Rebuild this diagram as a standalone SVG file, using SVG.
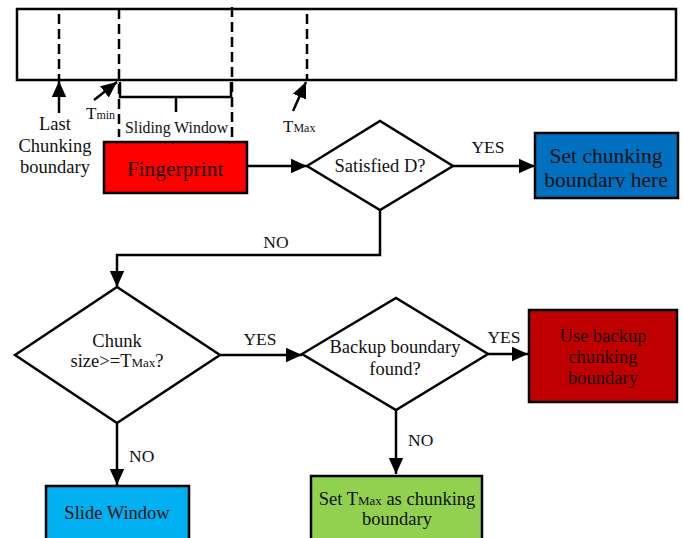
<svg xmlns="http://www.w3.org/2000/svg" width="683" height="538" viewBox="0 0 683 538">
  <defs>
    <marker id="head" viewBox="0 0 10 10" refX="10" refY="5" markerWidth="16" markerHeight="16" markerUnits="userSpaceOnUse" orient="auto">
      <path d="M0,0.5 L10,5 L0,9.5 Z" fill="#000"/>
    </marker>
    <clipPath id="clipBlue">
      <rect x="535" y="133" width="143" height="55"/>
    </clipPath>
  </defs>
  <style>
    text { font-family: "Liberation Serif", "Times New Roman", serif; fill: #111; font-size: 18.5px; }
    .mid { text-anchor: middle; }
    .box { stroke: #000; stroke-width: 2.5; }
    .dia { fill: #fff; stroke: #000; stroke-width: 2.5; }
    .edge { fill: none; stroke: #000; stroke-width: 2.5; }
    .dash { fill: none; stroke: #000; stroke-width: 2.5; stroke-dasharray: 10 5; }
    .lbl { font-size: 17.5px; }
    .mark { font-size: 17px; }
    .big { font-size: 21.5px; }
    .sub { font-size: 12px; }
    .sub13 { font-size: 13px; }
  </style>

  <!-- data stream with boundary markers -->
  <g id="stream">
    <rect x="17" y="9" width="659" height="71" fill="#fff" stroke="#000" stroke-width="2.5"/>
    <line class="dash" x1="59" y1="14" x2="59" y2="80"/>
    <line class="dash" x1="119" y1="9" x2="119" y2="137"/>
    <line class="dash" x1="232" y1="7" x2="232" y2="140"/>
    <line class="dash" x1="307" y1="14" x2="307" y2="80"/>
    <!-- sliding window brace -->
    <path class="edge" d="M120,82 V97 H231 V82 M176,97 V112"/>
    <!-- pointers -->
    <line class="edge" x1="59" y1="113" x2="59" y2="81" marker-end="url(#head)"/>
    <line class="edge" x1="94" y1="100" x2="117" y2="82" marker-end="url(#head)"/>
    <line class="edge" x1="293" y1="111" x2="306" y2="82" marker-end="url(#head)"/>
    <text class="mid" x="55" y="130">Last</text>
    <text class="mid" x="55" y="152">Chunking</text>
    <text class="mid" x="55" y="173">boundary</text>
    <text class="mark" x="86" y="119">T<tspan class="sub">min</tspan></text>
    <text x="125" y="133" style="font-size:15.8px">Sliding Window</text>
    <text class="mark" x="283" y="132">T<tspan class="sub">Max</tspan></text>
  </g>

  <!-- connectors -->
  <g id="connectors">
    <line class="edge" x1="247" y1="166" x2="307" y2="166" marker-end="url(#head)"/>
    <line class="edge" x1="453" y1="166" x2="535" y2="166" marker-end="url(#head)"/>
    <polyline class="edge" points="380,210 380,255 117,255 117,287" marker-end="url(#head)"/>
    <line class="edge" x1="220" y1="355" x2="302" y2="355" marker-end="url(#head)"/>
    <line class="edge" x1="488" y1="354" x2="528" y2="354" marker-end="url(#head)"/>
    <line class="edge" x1="396" y1="410" x2="396" y2="474" marker-end="url(#head)"/>
    <line class="edge" x1="117" y1="423" x2="117" y2="485" marker-end="url(#head)"/>
    <text class="mid lbl" x="488" y="153">YES</text>
    <text class="mid lbl" x="276" y="248">NO</text>
    <text class="mid lbl" x="260" y="345">YES</text>
    <text class="mid lbl" x="504" y="343">YES</text>
    <text class="lbl" x="408" y="446">NO</text>
    <text class="lbl" x="129" y="462">NO</text>
  </g>

  <g id="fingerprint">
    <rect class="box" x="104" y="142" width="143" height="51" fill="#ff0000"/>
    <text class="mid big" x="175" y="176" style="fill:#1a0000">Fingerprint</text>
  </g>

  <g id="satisfied">
    <polygon class="dia" points="307,166 380,121 453,166 380,210"/>
    <text class="mid" x="380" y="172">Satisfied D?</text>
  </g>

  <g id="set-boundary">
    <rect class="box" x="535" y="133" width="143" height="65" fill="#0070c0"/>
    <g clip-path="url(#clipBlue)">
      <text class="mid big" x="606" y="163">Set chunking</text>
      <text class="mid big" x="606" y="187">boundary here</text>
    </g>
  </g>

  <g id="chunk-size">
    <polygon class="dia" points="15,355 117,287 220,355 117,423"/>
    <text class="mid" x="117" y="347">Chunk</text>
    <text class="mid" x="117" y="367">size&gt;=T<tspan class="sub13">Max</tspan>?</text>
  </g>

  <g id="backup-found">
    <polygon class="dia" points="302,354 396,298 488,354 396,410"/>
    <text class="mid" x="395" y="353">Backup boundary</text>
    <text class="mid" x="395" y="375">found?</text>
  </g>

  <g id="use-backup">
    <rect class="box" x="529" y="310" width="148" height="92" fill="#c00000"/>
    <text class="mid" x="603" y="342" style="fill:#1a0000">Use backup</text>
    <text class="mid" x="603" y="363" style="fill:#1a0000">chunking</text>
    <text class="mid" x="603" y="384" style="fill:#1a0000">boundary</text>
  </g>

  <g id="set-tmax">
    <rect class="box" x="311" y="476" width="171" height="70" fill="#92d050"/>
    <text class="mid" x="397" y="505">Set T<tspan class="sub13">Max</tspan> as chunking</text>
    <text class="mid" x="397" y="525">boundary</text>
  </g>

  <g id="slide-window">
    <rect class="box" x="46" y="486" width="143" height="60" fill="#00b0f0"/>
    <text class="mid" x="117" y="519">Slide Window</text>
  </g>
</svg>
